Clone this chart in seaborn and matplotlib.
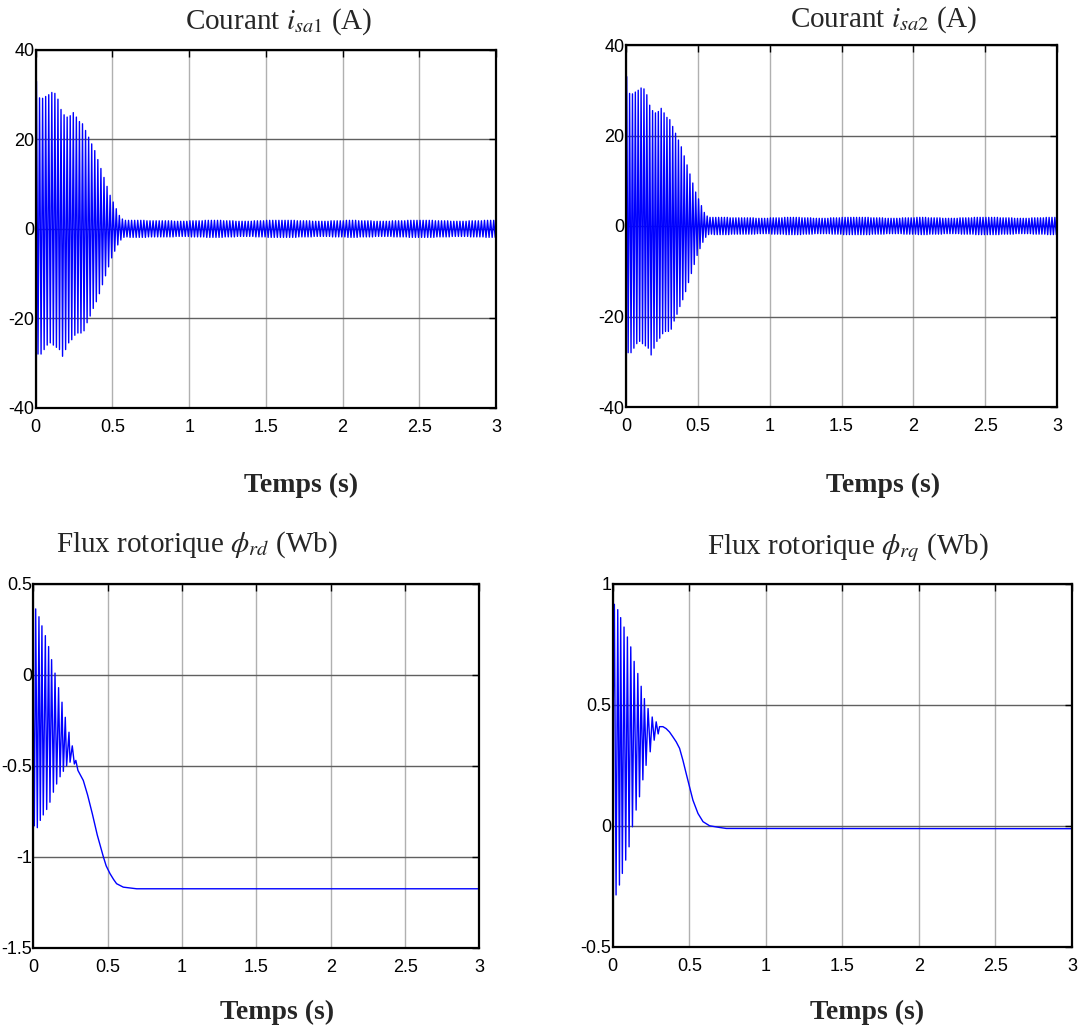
import numpy as np
import pandas as pd
import matplotlib
matplotlib.use("Agg")
import matplotlib.pyplot as plt
import seaborn as sns
from matplotlib.ticker import FuncFormatter

# ---------------- data ----------------
TIME_LIMITS = [0, 3]
X_TICKS = [0, 0.5, 1, 1.5, 2, 2.5, 3]

# stator currents: one positive / one negative peak per 50 Hz cycle (transient)
F_CUR = 50.0
ISA1_POS = [33.0, 29.3, 29.2, 29.6, 30.0, 30.5, 30.3, 29.0, 26.7, 25.5,
            25.0, 25.3, 26.0, 25.0, 24.0, 23.5, 22.0, 20.5, 19.0, 17.5,
            15.5, 13.5, 11.5, 9.5, 7.5, 6.0, 4.5, 3.0, 2.2, 1.9]
ISA1_NEG = [-28.0, -28.0, -27.0, -26.0, -25.5, -26.0, -26.5, -27.0, -28.5, -27.0,
            -25.5, -24.8, -23.8, -23.3, -23.3, -22.8, -21.0, -19.5, -17.8, -16.3,
            -14.5, -12.5, -10.5, -8.5, -6.5, -5.0, -3.6, -2.5, -1.9, -1.8]
# steady-state amplitude per 0.1 s block from 0.6 s to 3.0 s
ISA1_STEADY = [1.9, 1.8, 1.8, 1.7, 1.8, 1.9, 1.8, 1.7, 1.8, 1.9, 1.9, 1.8,
               1.7, 1.8, 1.9, 1.8, 1.7, 1.8, 1.9, 1.9, 1.8, 1.7, 1.8, 1.9]
ISA2_POS = list(ISA1_POS)
ISA2_NEG = list(ISA1_NEG)
ISA2_STEADY = list(ISA1_STEADY)
CUR_TICKS = [-40, -20, 0, 20, 40]

# rotor flux d-axis
PHI_RD_START = (0.0, -0.2)
PHI_RD_POS_T = [0.016, 0.038, 0.058, 0.081, 0.103, 0.123, 0.146, 0.170, 0.193, 0.215, 0.240, 0.262, 0.286]
PHI_RD_POS_V = [0.363, 0.32, 0.27, 0.216, 0.156, 0.084, 0.01, -0.07, -0.15, -0.233, -0.315, -0.39, -0.47]
PHI_RD_NEG_T = [0.007, 0.027, 0.047, 0.067, 0.090, 0.112, 0.135, 0.157, 0.180, 0.202, 0.224, 0.247, 0.276]
PHI_RD_NEG_V = [-0.83, -0.84, -0.80, -0.77, -0.74, -0.70, -0.645, -0.60, -0.56, -0.53, -0.50, -0.48, -0.49]
PHI_RD_TAIL_T = [0.30, 0.336, 0.365, 0.397, 0.43, 0.471, 0.49, 0.516, 0.54, 0.56, 0.605, 0.695, 3.0]
PHI_RD_TAIL_V = [-0.525, -0.58, -0.66, -0.764, -0.88, -1.0, -1.05, -1.093, -1.125, -1.148, -1.167, -1.176, -1.176]
PHI_RD_TICKS = [-1.5, -1, -0.5, 0, 0.5]

# rotor flux q-axis
PHI_RQ_START = (0.0, 0.3)
PHI_RQ_POS_T = [0.011, 0.033, 0.052, 0.074, 0.096, 0.118, 0.140, 0.164, 0.186, 0.207, 0.231, 0.258, 0.284, 0.306]
PHI_RQ_POS_V = [0.916, 0.894, 0.861, 0.822, 0.781, 0.74, 0.68, 0.63, 0.577, 0.526, 0.485, 0.45, 0.43, 0.41]
PHI_RQ_NEG_T = [0.022, 0.044, 0.063, 0.085, 0.107, 0.129, 0.153, 0.175, 0.197, 0.218, 0.245, 0.271, 0.297]
PHI_RQ_NEG_V = [-0.286, -0.245, -0.197, -0.142, -0.087, -0.004, 0.065, 0.12, 0.19, 0.25, 0.306, 0.354, 0.38]
PHI_RQ_TAIL_T = [0.328, 0.349, 0.371, 0.393, 0.415, 0.437, 0.459, 0.48, 0.502, 0.524, 0.557, 0.59, 0.633, 0.699, 0.742, 3.0]
PHI_RQ_TAIL_V = [0.41, 0.402, 0.388, 0.368, 0.347, 0.32, 0.27, 0.216, 0.161, 0.106, 0.051, 0.017, 0.0, -0.007, -0.011, -0.012]
PHI_RQ_TICKS = [-0.5, 0, 0.5, 1]

TITLES = [r"Courant $\mathit{i_{sa1}}$ (A)", r"Courant $\mathit{i_{sa2}}$ (A)",
          r"Flux rotorique $\phi_{rd}$ (Wb)", r"Flux rotorique $\phi_{rq}$ (Wb)"]
XLABEL = "Temps (s)"


# ---------------- build series ----------------
def current_frame(pos, neg, steady):
    t, v = [0.0], [0.0]
    n_cycles = int(round(TIME_LIMITS[1] * F_CUR))
    for k in range(n_cycles):
        if k < len(pos):
            p, n = pos[k], neg[k]
        else:
            idx = min(int((k / F_CUR - 0.6) / 0.1), len(steady) - 1)
            p, n = steady[idx], -steady[idx]
        t += [(k + 0.25) / F_CUR, (k + 0.75) / F_CUR]
        v += [p, n]
    return pd.DataFrame({"t": t, "v": v})


def flux_frame(start, pt, pv, nt, nv, tt, tv):
    t = [start[0]] + pt + nt + tt
    v = [start[1]] + pv + nv + tv
    df = pd.DataFrame({"t": t, "v": v}).sort_values("t").reset_index(drop=True)
    return df


frames = [
    current_frame(ISA1_POS, ISA1_NEG, ISA1_STEADY),
    current_frame(ISA2_POS, ISA2_NEG, ISA2_STEADY),
    flux_frame(PHI_RD_START, PHI_RD_POS_T, PHI_RD_POS_V, PHI_RD_NEG_T, PHI_RD_NEG_V,
               PHI_RD_TAIL_T, PHI_RD_TAIL_V),
    flux_frame(PHI_RQ_START, PHI_RQ_POS_T, PHI_RQ_POS_V, PHI_RQ_NEG_T, PHI_RQ_NEG_V,
               PHI_RQ_TAIL_T, PHI_RQ_TAIL_V),
]
yticks = [CUR_TICKS, CUR_TICKS, PHI_RD_TICKS, PHI_RQ_TICKS]

# ---------------- style ----------------
sns.set_style("white")
plt.rcParams["font.family"] = ["Liberation Sans", "DejaVu Sans"]
plt.rcParams["axes.unicode_minus"] = False
plt.rcParams["mathtext.fontset"] = "stix"

W, H = 1083, 1030
fig = plt.figure(figsize=(W / 100, H / 100), dpi=100)

# axes boxes in pixels: left, right, top, bottom
boxes = [(35.7, 496.0, 50.0, 407.7),
         (626.0, 1057.0, 45.0, 407.0),
         (33.3, 479.5, 584.0, 947.7),
         (612.7, 1072.0, 584.0, 946.7)]
title_pos = [(279, 22), (884, 20), (197, 545), (848, 548)]
xlabel_pos = [(301, 485), (883, 485), (277, 1012), (867, 1012)]

fmt = FuncFormatter(lambda x, p: ("%g" % x))

for i, (df, (l, r, t, b)) in enumerate(zip(frames, boxes)):
    ax = fig.add_axes([l / W, 1 - b / H, (r - l) / W, (b - t) / H])
    sns.lineplot(data=df, x="t", y="v", ax=ax, color="#0000ff", linewidth=1.0,
                 estimator=None, sort=False, legend=False)
    ax.set_xlim(*TIME_LIMITS)
    ax.set_ylim(yticks[i][0], yticks[i][-1])
    ax.set_xticks(X_TICKS)
    ax.set_yticks(yticks[i])
    ax.xaxis.set_major_formatter(fmt)
    ax.yaxis.set_major_formatter(fmt)
    ax.set_xlabel("")
    ax.set_ylabel("")
    ax.xaxis.grid(True, color="#b0b0b0", linewidth=1.0)
    ax.yaxis.grid(True, color="#606060", linewidth=1.0)
    ax.set_axisbelow(True)
    for s in ax.spines.values():
        s.set_visible(True)
        s.set_color("black")
        s.set_linewidth(1.6)
    ax.tick_params(axis="both", direction="in", top=True, right=True, length=5,
                   width=1.0, labelsize=13, colors="black")
    ax.tick_params(axis="y", pad=1)
    ax.tick_params(axis="x", pad=8)

    tx, ty = title_pos[i]
    fig.text(tx / W, 1 - ty / H, TITLES[i], ha="center", va="center",
             family="Liberation Serif", fontsize=21)
    lx, ly = xlabel_pos[i]
    fig.text(lx / W, 1 - ly / H, XLABEL, ha="center", va="center",
             family="Liberation Serif", fontweight="bold", fontsize=20)

fig.savefig("out.png", dpi=100, facecolor="white")
